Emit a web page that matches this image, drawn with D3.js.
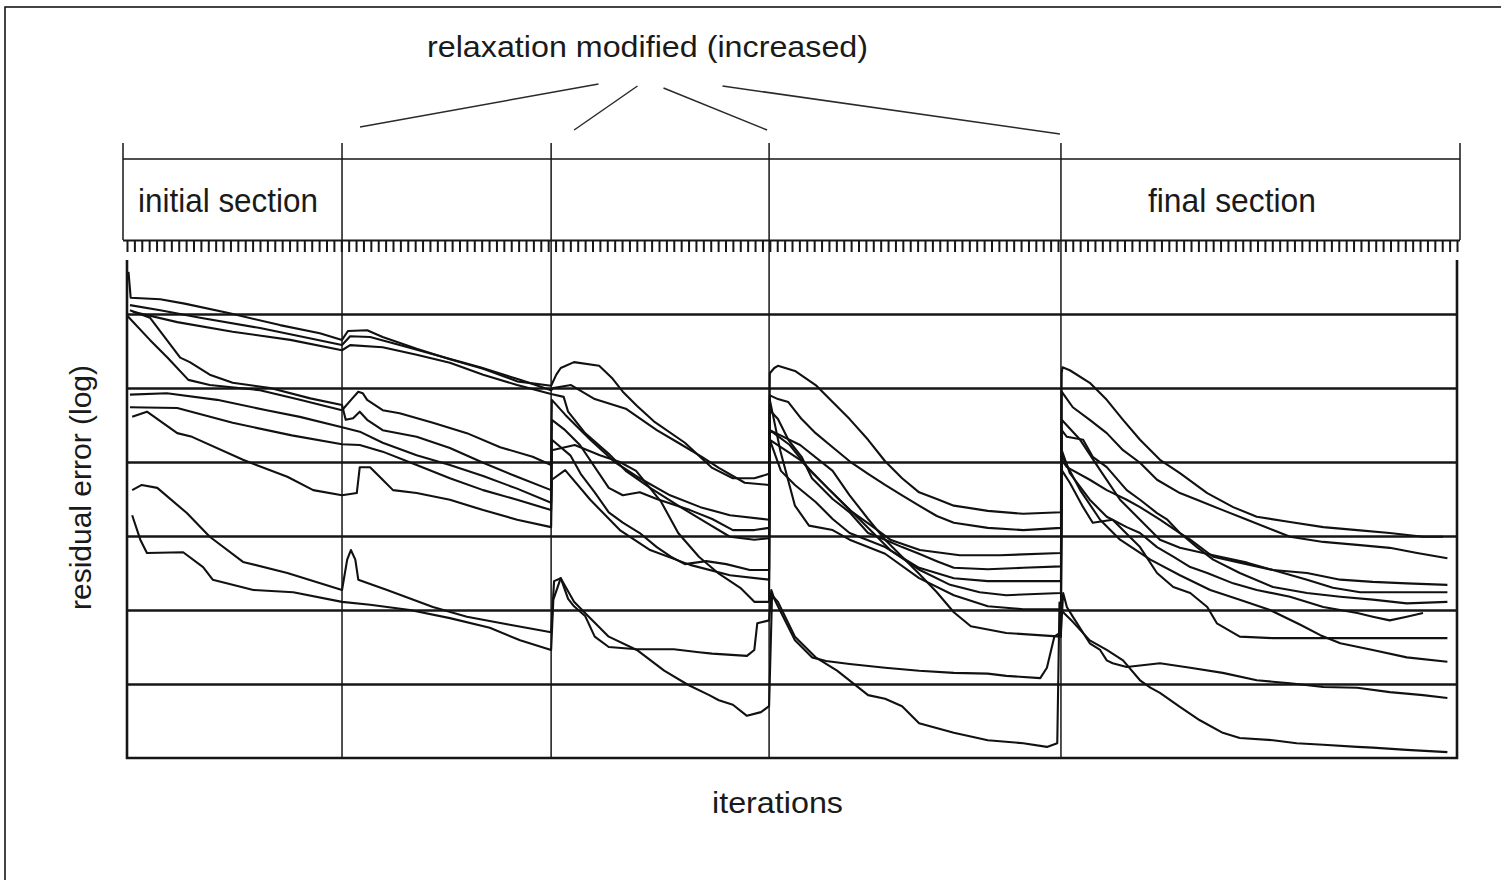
<!DOCTYPE html>
<html>
<head>
<meta charset="utf-8">
<script src="https://cdn.jsdelivr.net/npm/d3@7"></script>
<style>
  html, body { margin: 0; padding: 0; background: #fff; }
  svg { display: block; }
  text { font-family: "Liberation Sans", Arial, sans-serif; fill: #1a1a1a; }
</style>
</head>
<body>
<svg id="chart" width="1501" height="880"></svg>
<script>
// Iteration at which each section starts/ends (relaxation changed at the inner ones)
const sectionBounds = [0, 291, 574, 869, 1264, 1800];
const sectionLabels = ["initial section", "", "", "", "final section"];
// Decade grid lines of the residual (log10)
const decadeLines = [-1, -2, -3, -4, -5, -6];
// Iteration markers along the top row
const iterationTicks = d3.range(0, 1801, 10);

// Residual histories: [iteration, log10(residual error)]
const series1 = [[2,-0.43],[5,-0.78],[45,-0.80],[78,-0.86],[139,-0.99],[207,-1.15],[261,-1.26],[291,-1.35],
  [299,-1.23],[325,-1.22],[346,-1.31],[392,-1.47],[437,-1.61],[482,-1.74],[528,-1.91],[574,-1.97],
  [581,-1.82],[587,-1.73],[605,-1.65],[639,-1.70],[656,-1.86],[671,-2.05],[690,-2.24],[713,-2.45],[755,-2.74],[792,-3.08],[820,-3.22],[849,-3.22],[869,-3.16],
  [870,-1.80],[876,-1.73],[881,-1.70],[904,-1.77],[932,-1.96],[955,-2.19],[978,-2.42],[1003,-2.70],[1026,-2.99],[1049,-3.22],[1072,-3.41],[1096,-3.50],[1119,-3.59],[1165,-3.66],[1213,-3.70],[1264,-3.68],
  [1265,-1.80],[1266,-1.72],[1276,-1.76],[1303,-1.93],[1326,-2.16],[1348,-2.43],[1371,-2.70],[1398,-2.97],[1425,-3.15],[1462,-3.42],[1497,-3.61],[1529,-3.74],[1574,-3.81],[1619,-3.88],[1665,-3.92],[1709,-3.96],[1754,-4.01],[1781,-4.01]];

const series2 = [[4,-0.88],[45,-0.95],[99,-1.05],[180,-1.19],[234,-1.30],[291,-1.42],
  [302,-1.30],[329,-1.31],[369,-1.42],[424,-1.57],[478,-1.72],[532,-1.89],[574,-2.03],
  [577,-2.00],[601,-1.96],[633,-2.15],[675,-2.28],[717,-2.57],[746,-2.74],[778,-2.93],[801,-3.08],[836,-3.28],[869,-3.31],
  [870,-2.10],[881,-2.15],[895,-2.19],[913,-2.42],[932,-2.61],[955,-2.80],[978,-2.99],[1003,-3.16],[1026,-3.31],[1049,-3.45],[1072,-3.59],[1096,-3.73],[1119,-3.82],[1165,-3.89],[1213,-3.92],[1264,-3.89],
  [1265,-2.05],[1270,-2.12],[1280,-2.26],[1303,-2.43],[1326,-2.61],[1348,-2.84],[1371,-3.01],[1394,-3.24],[1425,-3.42],[1448,-3.51],[1483,-3.65],[1516,-3.78],[1551,-3.92],[1574,-4.01],[1619,-4.08],[1665,-4.12],[1709,-4.16],[1746,-4.23],[1787,-4.30]];

const series3 = [[8,-0.97],[68,-1.11],[143,-1.24],[221,-1.35],[291,-1.49],
  [302,-1.42],[346,-1.45],[392,-1.55],[437,-1.66],[482,-1.82],[528,-1.96],[574,-2.08],
  [591,-2.12],[597,-2.32],[620,-2.61],[652,-2.89],[675,-3.12],[708,-3.35],[746,-3.59],[784,-3.82],[816,-4.01],[849,-4.05],[869,-4.03],
  [870,-2.30],[881,-2.42],[895,-2.70],[913,-2.93],[927,-3.22],[955,-3.50],[978,-3.68],[1003,-3.96],[1026,-4.05],[1049,-4.15],[1072,-4.24],[1096,-4.34],[1119,-4.43],[1165,-4.45],[1213,-4.43],[1264,-4.41],
  [1265,-2.57],[1272,-2.66],[1294,-2.70],[1307,-2.93],[1326,-3.07],[1353,-3.38],[1371,-3.51],[1394,-3.69],[1408,-3.78],[1425,-3.96],[1439,-4.05],[1470,-4.28],[1506,-4.36],[1551,-4.46],[1597,-4.50],[1642,-4.59],[1686,-4.62],[1732,-4.64],[1787,-4.66]];

const series4 = [[1,-1.03],[31,-1.35],[55,-1.59],[83,-1.89],[112,-1.96],[180,-2.03],[234,-2.16],[291,-2.30],
  [305,-2.14],[313,-2.05],[319,-2.07],[325,-2.16],[346,-2.30],[369,-2.34],[414,-2.47],[460,-2.61],[505,-2.80],[549,-2.93],[574,-3.04],
  [575,-2.16],[593,-2.36],[627,-2.70],[660,-3.00],[694,-3.22],[735,-3.45],[776,-3.61],[816,-3.72],[869,-3.78],
  [870,-2.70],[885,-3.12],[904,-3.31],[932,-3.54],[955,-3.77],[978,-3.96],[1026,-4.15],[1072,-4.43],[1119,-4.57],[1165,-4.61],[1264,-4.61],
  [1265,-2.97],[1272,-3.07],[1303,-3.24],[1326,-3.38],[1353,-3.51],[1371,-3.61],[1398,-3.78],[1425,-3.96],[1448,-4.15],[1470,-4.32],[1506,-4.50],[1551,-4.69],[1597,-4.77],[1642,-4.82],[1686,-4.86],[1732,-4.91],[1787,-4.89]];

const series5 = [[4,-0.95],[31,-1.05],[72,-1.59],[85,-1.65],[112,-1.82],[143,-1.93],[194,-2.00],[248,-2.14],[291,-2.23],
  [296,-2.43],[306,-2.41],[315,-2.32],[325,-2.43],[346,-2.57],[392,-2.66],[437,-2.81],[482,-3.01],[528,-3.20],[574,-3.38],
  [575,-2.43],[593,-2.57],[613,-2.77],[652,-3.35],[671,-3.45],[694,-3.41],[717,-3.50],[762,-3.65],[792,-3.77],[820,-3.92],[849,-3.92],[869,-3.89],
  [870,-2.16],[884,-2.84],[904,-3.59],[923,-3.86],[955,-3.92],[978,-4.05],[1026,-4.24],[1072,-4.57],[1119,-4.80],[1165,-4.95],[1213,-4.99],[1264,-4.99],
  [1265,-2.84],[1276,-3.15],[1303,-3.51],[1326,-3.74],[1353,-3.88],[1371,-3.96],[1394,-4.15],[1416,-4.28],[1439,-4.42],[1462,-4.50],[1497,-4.64],[1529,-4.73],[1574,-4.82],[1619,-4.96],[1665,-5.04],[1686,-5.09],[1709,-5.14],[1732,-5.09],[1754,-5.04]];

const series6 = [[4,-2.09],[54,-2.07],[122,-2.16],[189,-2.30],[234,-2.39],[291,-2.53],
  [315,-2.59],[346,-2.74],[392,-2.91],[437,-3.04],[482,-3.19],[528,-3.36],[574,-3.55],
  [575,-2.70],[600,-2.91],[614,-3.16],[633,-3.41],[652,-3.68],[671,-3.82],[694,-3.96],[717,-4.15],[736,-4.28],[755,-4.38],[784,-4.34],[811,-4.38],[843,-4.46],[869,-4.46],
  [870,-2.57],[911,-2.77],[955,-3.12],[978,-3.45],[1003,-3.77],[1026,-4.05],[1049,-4.28],[1072,-4.51],[1096,-4.76],[1119,-5.03],[1142,-5.22],[1190,-5.31],[1264,-5.36],
  [1265,-3.11],[1276,-3.28],[1294,-3.61],[1307,-3.82],[1334,-3.78],[1357,-4.01],[1371,-4.15],[1394,-4.50],[1416,-4.69],[1439,-4.77],[1462,-4.96],[1475,-5.18],[1506,-5.36],[1551,-5.38],[1578,-5.38],[1696,-5.38],[1787,-5.38]];

const series7 = [[4,-2.26],[68,-2.27],[143,-2.47],[223,-2.64],[291,-2.76],
  [315,-2.77],[346,-2.86],[392,-3.04],[437,-3.22],[482,-3.38],[528,-3.51],[574,-3.65],
  [575,-2.84],[606,-2.77],[640,-2.91],[667,-3.00],[689,-3.12],[723,-3.54],[746,-3.96],[774,-4.28],[801,-4.51],[830,-4.70],[849,-4.89],[869,-4.89],
  [870,-2.70],[911,-2.97],[951,-3.38],[992,-3.78],[1033,-4.19],[1073,-4.46],[1114,-4.66],[1154,-4.76],[1190,-4.80],[1264,-4.77],
  [1265,-2.43],[1290,-2.70],[1317,-3.11],[1344,-3.51],[1371,-3.78],[1398,-4.05],[1425,-4.16],[1470,-4.26],[1516,-4.36],[1551,-4.46],[1597,-4.59],[1632,-4.70],[1669,-4.76],[1723,-4.76],[1787,-4.76]];

const series8 = [[7,-2.39],[27,-2.32],[68,-2.61],[88,-2.66],[157,-2.97],[217,-3.20],[252,-3.38],[291,-3.45],
  [311,-3.42],[315,-3.07],[329,-3.07],[346,-3.24],[360,-3.38],[392,-3.42],[437,-3.51],[482,-3.65],[528,-3.78],[574,-3.88],
  [575,-3.24],[593,-3.11],[627,-3.51],[667,-3.92],[708,-4.19],[762,-4.39],[816,-4.53],[869,-4.59],
  [870,-2.57],[897,-2.77],[924,-3.11],[951,-3.38],[978,-3.65],[1006,-3.85],[1033,-4.05],[1073,-4.19],[1127,-4.26],[1181,-4.26],[1264,-4.23],
  [1265,-2.91],[1290,-3.38],[1317,-3.78],[1344,-4.05],[1385,-4.32],[1425,-4.53],[1466,-4.73],[1506,-4.86],[1547,-5.00],[1588,-5.20],[1615,-5.34],[1642,-5.45],[1686,-5.54],[1732,-5.64],[1787,-5.70]];

const series9 = [[7,-3.38],[20,-3.31],[41,-3.35],[81,-3.69],[112,-4.01],[157,-4.35],[217,-4.50],[291,-4.73],
  [298,-4.32],[303,-4.19],[309,-4.32],[313,-4.59],[332,-4.66],[352,-4.73],[414,-4.96],[460,-5.09],[518,-5.20],[574,-5.30],
  [578,-4.61],[587,-4.57],[597,-4.85],[605,-4.95],[620,-5.08],[633,-5.36],[652,-5.50],[690,-5.53],[740,-5.53],[774,-5.57],[792,-5.59],[839,-5.62],[849,-5.54],[853,-5.18],[869,-5.14],
  [872,-4.73],[876,-4.85],[885,-5.03],[904,-5.41],[927,-5.64],[946,-5.69],[978,-5.73],[1026,-5.78],[1072,-5.82],[1119,-5.85],[1165,-5.86],[1190,-5.89],[1236,-5.92],[1245,-5.78],[1255,-5.36],[1264,-5.30],
  [1267,-4.77],[1272,-4.96],[1280,-5.09],[1303,-5.45],[1317,-5.54],[1326,-5.68],[1334,-5.72],[1353,-5.77],[1398,-5.72],[1439,-5.78],[1483,-5.85],[1529,-5.95],[1574,-5.99],[1619,-6.04],[1665,-6.05],[1709,-6.11],[1754,-6.15],[1787,-6.19]];

const series10 = [[7,-3.72],[18,-4.05],[27,-4.23],[76,-4.22],[103,-4.42],[116,-4.59],[171,-4.73],[225,-4.76],[291,-4.89],
  [329,-4.93],[383,-5.00],[437,-5.11],[491,-5.24],[532,-5.41],[574,-5.54],
  [577,-4.86],[587,-4.57],[605,-4.89],[624,-5.08],[652,-5.36],[690,-5.54],[727,-5.82],[759,-6.01],[788,-6.15],[801,-6.22],[820,-6.28],[839,-6.43],[858,-6.38],[869,-6.30],
  [873,-4.80],[881,-4.89],[904,-5.36],[932,-5.64],[961,-5.82],[1003,-6.15],[1026,-6.20],[1049,-6.30],[1072,-6.53],[1119,-6.66],[1165,-6.76],[1213,-6.80],[1245,-6.85],[1259,-6.80],
  [1262,-4.90],[1267,-5.03],[1280,-5.16],[1303,-5.41],[1326,-5.54],[1348,-5.68],[1371,-5.95],[1385,-6.05],[1398,-6.12],[1425,-6.31],[1452,-6.49],[1483,-6.66],[1506,-6.73],[1551,-6.76],[1583,-6.80],[1619,-6.82],[1665,-6.85],[1686,-6.86],[1732,-6.89],[1787,-6.92]];

const allSeries = [series1, series2, series3, series4, series5, series6, series7, series8, series9, series10];

// ---- layout ----
const plot = { left: 127, right: 1457, top: 240, bottom: 758 };
const headerTop = 159, dividerTop = 143;
const ink = "#161616";

const svg = d3.select("#chart");

const x = d3.scaleLinear().domain([0, 1800]).range([plot.left, plot.right]);
const y = d3.scaleLinear().domain([-7, 0]).range([plot.bottom, plot.top]);

// outer frame
svg.append("rect")
  .attr("x", 5).attr("y", 7).attr("width", 1520).attr("height", 900)
  .attr("fill", "none").attr("stroke", ink).attr("stroke-width", 1.6);

// title and leader lines to the relaxation changes
const titleLeft = 427, titleWidth = 441;
svg.append("text")
  .attr("x", titleLeft).attr("y", 57)
  .attr("font-size", 30)
  .attr("textLength", titleWidth).attr("lengthAdjust", "spacingAndGlyphs")
  .text("relaxation modified (increased)");

const titleMid = titleLeft + titleWidth / 2;
const leaders = [
  { from: -49, to: sectionBounds[1], shift: 18, y0: 84, y1: 127 },
  { from: -10, to: sectionBounds[2], shift: 23, y0: 86, y1: 130 },
  { from: 16,  to: sectionBounds[3], shift: -2, y0: 88, y1: 130 },
  { from: 75,  to: sectionBounds[4], shift: -1, y0: 86, y1: 134 }
];
svg.append("g").selectAll("line").data(leaders).join("line")
  .attr("x1", d => titleMid + d.from).attr("y1", d => d.y0)
  .attr("x2", d => x(d.to) + d.shift).attr("y2", d => d.y1)
  .attr("stroke", "#2a2a2a").attr("stroke-width", 1.5);

// section header band
const hdrLeft = x(0) - 4, hdrRight = x(1800) + 3;
svg.append("line")
  .attr("x1", hdrLeft).attr("x2", hdrRight).attr("y1", headerTop).attr("y2", headerTop)
  .attr("stroke", ink).attr("stroke-width", 1.5);
svg.append("g").selectAll("line").data([hdrLeft, hdrRight]).join("line")
  .attr("x1", d => d).attr("x2", d => d)
  .attr("y1", dividerTop).attr("y2", plot.top)
  .attr("stroke", ink).attr("stroke-width", 1.5);

// section dividers
svg.append("g").selectAll("line").data(sectionBounds.slice(1, -1)).join("line")
  .attr("x1", d => x(d)).attr("x2", d => x(d))
  .attr("y1", dividerTop).attr("y2", plot.bottom)
  .attr("stroke", ink).attr("stroke-width", 1.5);

// section labels
svg.append("text")
  .attr("x", x(sectionBounds[0]) + 11).attr("y", 212)
  .attr("font-size", 34)
  .attr("textLength", 180).attr("lengthAdjust", "spacingAndGlyphs")
  .text(sectionLabels[0]);
svg.append("text")
  .attr("x", x(sectionBounds[4]) + 87).attr("y", 212)
  .attr("font-size", 34)
  .attr("textLength", 168).attr("lengthAdjust", "spacingAndGlyphs")
  .text(sectionLabels[4]);

// decade grid lines
svg.append("g")
  .attr("transform", `translate(${plot.left},0)`)
  .call(d3.axisRight(y).tickValues(decadeLines).tickSize(plot.right - plot.left).tickFormat(""))
  .call(g => g.select(".domain").remove())
  .call(g => g.selectAll(".tick line").attr("stroke", ink).attr("stroke-width", 2.4));

// plot box (left, right, bottom)
svg.append("path")
  .attr("d", `M${plot.left},${plot.top + 20}V${plot.bottom}H${plot.right}V${plot.top + 20}`)
  .attr("fill", "none").attr("stroke", ink).attr("stroke-width", 2.6);

// residual curves
const line = d3.line()
  .x(d => x(d[0]))
  .y(d => y(d[1]));
svg.append("g").selectAll("path").data(allSeries).join("path")
  .attr("d", line)
  .attr("fill", "none")
  .attr("stroke", "#111")
  .attr("stroke-width", 2.1)
  .attr("stroke-linejoin", "round");

// iteration marker row
svg.append("g")
  .attr("transform", `translate(0,${plot.top})`)
  .call(d3.axisBottom(x).tickValues(iterationTicks).tickSize(12).tickSizeOuter(0).tickFormat(""))
  .call(g => g.select(".domain").attr("stroke", ink).attr("stroke-width", 2.2)
      .attr("d", `M${hdrLeft},0.5H${hdrRight}`))
  .call(g => g.selectAll(".tick line").attr("stroke", ink).attr("stroke-width", 2));

// axis titles
svg.append("text")
  .attr("x", 712).attr("y", 813)
  .attr("font-size", 30)
  .attr("textLength", 131).attr("lengthAdjust", "spacingAndGlyphs")
  .text("iterations");

svg.append("text")
  .attr("transform", "translate(91,610) rotate(-90)")
  .attr("font-size", 30)
  .attr("textLength", 245).attr("lengthAdjust", "spacingAndGlyphs")
  .text("residual error (log)");
</script>
</body>
</html>
